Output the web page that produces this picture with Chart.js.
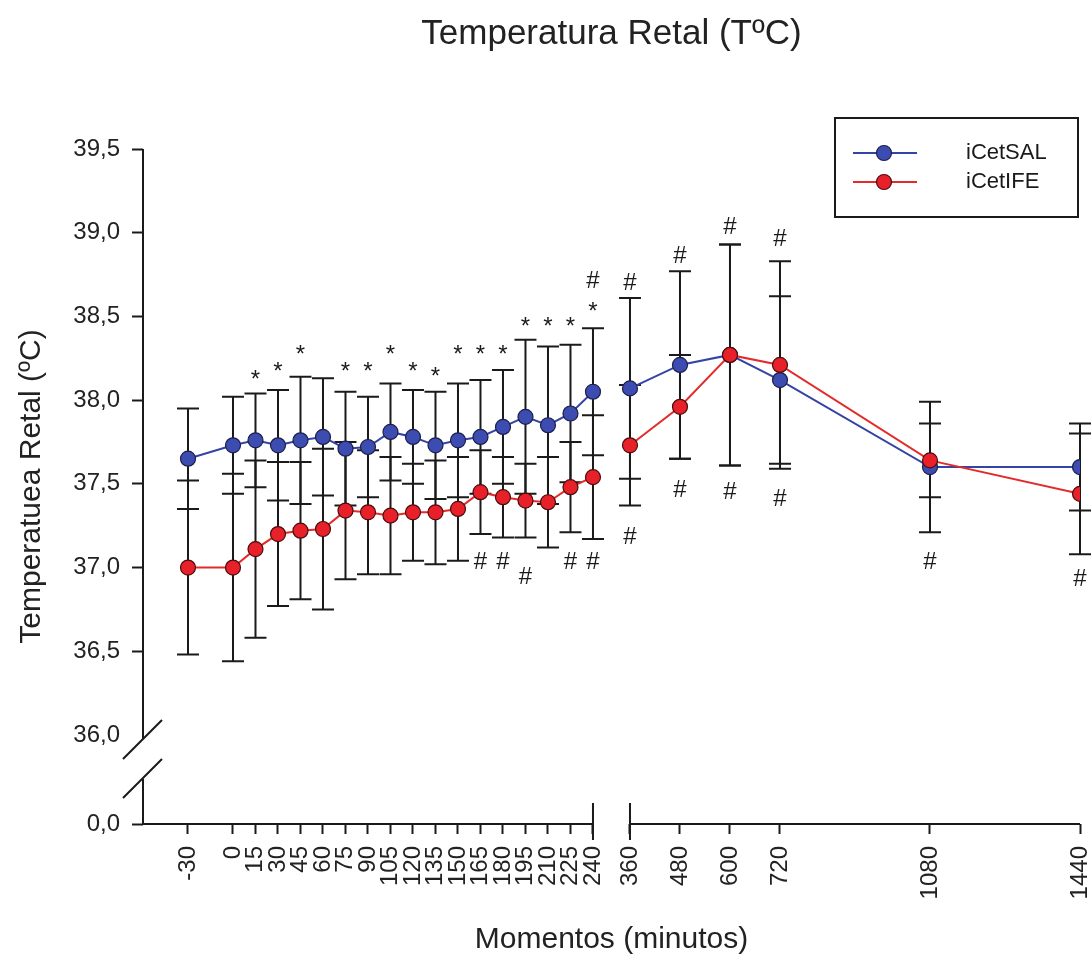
<!DOCTYPE html>
<html lang="pt">
<head>
<meta charset="utf-8">
<title>Temperatura Retal</title>
<script src="https://cdn.jsdelivr.net/npm/chart.js@4.4.1/dist/chart.umd.min.js"></script>
<style>
html,body{margin:0;padding:0;background:#fff;}
canvas{display:block;}
</style>
</head>
<body>
<canvas id="graf" width="1092" height="962"></canvas>
<script>
// momentos de coleta (minutos) e médias ± DP de cada grupo
const momentos=[-30,0,15,30,45,60,75,90,105,120,135,150,165,180,195,210,225,240,360,480,600,720,1080,1440];
const salMedia=[37.65,37.73,37.76,37.73,37.76,37.78,37.71,37.72,37.81,37.78,37.73,37.76,37.78,37.84,37.90,37.85,37.92,38.05,38.07,38.21,38.27,38.12,37.60,37.60];
const salDP=[0.30,0.29,0.28,0.33,0.38,0.35,0.34,0.30,0.29,0.28,0.32,0.34,0.34,0.34,0.46,0.47,0.41,0.38,0.54,0.56,0.66,0.50,0.39,0.26];
const ifeMedia=[37.00,37.00,37.11,37.20,37.22,37.23,37.34,37.33,37.31,37.33,37.33,37.35,37.45,37.42,37.40,37.39,37.48,37.54,37.73,37.96,38.27,38.21,37.64,37.44];
const ifeDP=[0.52,0.56,0.53,0.43,0.41,0.48,0.41,0.37,0.35,0.29,0.31,0.31,0.25,0.24,0.22,0.27,0.27,0.37,0.36,0.31,0.66,0.62,0.22,0.36];

// eixo y quebrado: o "0,0" fica logo abaixo de 36,0
const yValores=[35.468,36,36.5,37,37.5,38,38.5,39,39.5];
const yRotulos=['0,0','36,0','36,5','37,0','37,5','38,0','38,5','39,0','39,5'];

// marcas de significância: * e #
const astMomentos=[15,30,45,75,90,105,120,135,150,165,180,195,210,225,240];
const astNivel=[38.16,38.21,38.31,38.21,38.21,38.31,38.21,38.18,38.31,38.31,38.31,38.48,38.48,38.48,38.57];
const cerMomentos=[165,180,195,225,240,240,360,360,480,480,600,600,720,720,1080,1440];
const cerNivel=[37.03,37.03,36.94,37.03,37.03,38.71,38.70,37.18,38.86,37.46,39.03,37.45,38.96,37.41,37.03,36.93];

const FONTE="'Liberation Sans', Arial, sans-serif";
const TINTA='#1a1a1a';

// até 240 min a escala é normal; depois do corte ela é comprimida
const CORTE=240, RETOMA=360, SALTO=24.67, COMPRESSAO=0.2778, X_INICIO=-60;
function posicao(m){ return m<=CORTE ? m : CORTE+SALTO+(m-RETOMA)*COMPRESSAO; }
const iCorte=momentos.indexOf(CORTE);

function pontos(medias){ return momentos.map((m,i)=>({x:posicao(m),y:medias[i]})); }

const barrasErro={
  id:'barrasErro',
  beforeDatasetsDraw(chart){
    const ctx=chart.ctx, xs=chart.scales.x, ys=chart.scales.y;
    ctx.save();
    ctx.strokeStyle=TINTA; ctx.lineWidth=2;
    chart.data.datasets.forEach(ds=>{
      ds.data.forEach((p,i)=>{
        const px=xs.getPixelForValue(p.x);
        const topo=ys.getPixelForValue(p.y+ds.desvio[i]);
        const base=ys.getPixelForValue(p.y-ds.desvio[i]);
        ctx.beginPath();
        ctx.moveTo(px,topo); ctx.lineTo(px,base);
        ctx.moveTo(px-11,topo); ctx.lineTo(px+11,topo);
        ctx.moveTo(px-11,base); ctx.lineTo(px+11,base);
        ctx.stroke();
      });
    });
    ctx.restore();
  }
};

// linhas dos eixos com as quebras
const eixosQuebrados={
  id:'eixosQuebrados',
  beforeDatasetsDraw(chart){
    const ctx=chart.ctx, xs=chart.scales.x, ys=chart.scales.y, a=chart.chartArea;
    const x0=a.left, yb=a.bottom;
    const y36=ys.getPixelForValue(36);
    ctx.save();
    ctx.strokeStyle=TINTA; ctx.lineWidth=2;
    ctx.beginPath();
    // eixo y
    ctx.moveTo(x0,a.top); ctx.lineTo(x0,y36+4);
    ctx.moveTo(x0,y36+44); ctx.lineTo(x0,yb);
    ctx.moveTo(x0-20,y36+24); ctx.lineTo(x0+19,y36-15);
    ctx.moveTo(x0-20,y36+63); ctx.lineTo(x0+19,y36+24);
    // eixo x
    const xc=xs.getPixelForValue(posicao(CORTE)), xr=xs.getPixelForValue(posicao(RETOMA));
    ctx.moveTo(x0-1,yb); ctx.lineTo(xc,yb);
    ctx.moveTo(xc,yb-21); ctx.lineTo(xc,yb+16);
    ctx.moveTo(xr,yb-21); ctx.lineTo(xr,yb+16);
    ctx.moveTo(xr,yb); ctx.lineTo(a.right,yb);
    ctx.stroke();
    ctx.restore();
  }
};

const marcas={
  id:'marcas',
  afterDatasetsDraw(chart){
    const ctx=chart.ctx, xs=chart.scales.x, ys=chart.scales.y;
    ctx.save();
    ctx.fillStyle=TINTA; ctx.textAlign='center';
    ctx.font='24px '+FONTE;
    ctx.textBaseline='alphabetic';
    astMomentos.forEach((m,i)=>{
      ctx.fillText('*',xs.getPixelForValue(posicao(m)),ys.getPixelForValue(astNivel[i])+14);
    });
    ctx.textBaseline='middle';
    cerMomentos.forEach((m,i)=>{
      ctx.fillText('#',xs.getPixelForValue(posicao(m)),ys.getPixelForValue(cerNivel[i]));
    });
    ctx.restore();
  }
};

const legendaCaixa={
  id:'legendaCaixa',
  afterDraw(chart){
    const ctx=chart.ctx, a=chart.chartArea;
    const L=a.right-245, T=a.top-31, W=243, H=99;
    ctx.save();
    ctx.strokeStyle=TINTA; ctx.lineWidth=2;
    ctx.strokeRect(L,T,W,H);
    ctx.font='22px '+FONTE; ctx.textBaseline='middle'; ctx.textAlign='left';
    chart.data.datasets.forEach((ds,i)=>{
      const yy=T+35+i*29;
      ctx.strokeStyle=ds.borderColor; ctx.lineWidth=2;
      ctx.beginPath(); ctx.moveTo(L+18,yy); ctx.lineTo(L+82,yy); ctx.stroke();
      ctx.beginPath(); ctx.arc(L+49,yy,7.5,0,Math.PI*2);
      ctx.fillStyle=ds.pointBackgroundColor; ctx.fill();
      ctx.strokeStyle=ds.pointBorderColor; ctx.lineWidth=1.2; ctx.stroke();
      ctx.fillStyle=TINTA;
      ctx.fillText(ds.label,L+131,yy);
    });
    ctx.restore();
  }
};

const semCorte={borderColor:c=>c.p0DataIndex===iCorte?'rgba(0,0,0,0)':undefined};

new Chart(document.getElementById('graf'),{
  type:'line',
  data:{
    datasets:[
      {label:'iCetSAL',data:pontos(salMedia),desvio:salDP,order:1,
       borderColor:'#3443a4',borderWidth:2,pointBackgroundColor:'#3d4cb0',pointBorderColor:'#1c1f4a',
       pointBorderWidth:1.2,pointRadius:7.5,segment:semCorte},
      {label:'iCetIFE',data:pontos(ifeMedia),desvio:ifeDP,order:0,
       borderColor:'#e32b2b',borderWidth:2,pointBackgroundColor:'#e8202a',pointBorderColor:'#4a0d0d',
       pointBorderWidth:1.2,pointRadius:7.5,segment:semCorte}
    ]
  },
  options:{
    responsive:false,
    animation:false,
    layout:{autoPadding:false,padding:{left:0,right:12,top:0,bottom:0}},
    plugins:{
      legend:{display:false},
      tooltip:{enabled:false},
      title:{display:true,text:'Temperatura Retal (TºC)',fullSize:false,color:'#222',
        font:{size:35,family:FONTE,weight:'normal'},padding:{top:13,bottom:94}}
    },
    scales:{
      x:{
        type:'linear',min:X_INICIO,max:posicao(1440),
        afterBuildTicks:s=>{s.ticks=momentos.map(m=>({value:posicao(m)}));},
        afterFit:s=>{s.height=138;s.paddingLeft=0;s.paddingRight=0;},
        border:{display:false},
        grid:{drawOnChartArea:false,tickLength:10,tickWidth:2,tickColor:TINTA},
        ticks:{autoSkip:false,minRotation:90,maxRotation:90,padding:12,color:'#222',
          font:{size:24,family:FONTE},callback:(v,i)=>String(momentos[i])},
        title:{display:true,text:'Momentos (minutos)',color:'#222',font:{size:30,family:FONTE},padding:{top:0,bottom:4}}
      },
      y:{
        type:'linear',min:yValores[0],max:yValores[yValores.length-1],
        afterBuildTicks:s=>{s.ticks=yValores.map(v=>({value:v}));},
        afterFit:s=>{s.width=143;s.paddingTop=0;s.paddingBottom=0;},
        border:{display:false},
        grid:{drawOnChartArea:false,tickLength:11,tickWidth:2,
          tickColor:c=>(c.tick&&c.tick.value===36)?'rgba(0,0,0,0)':TINTA},
        ticks:{padding:12,color:'#222',font:{size:24,family:FONTE},callback:(v,i)=>yRotulos[i]},
        title:{display:true,text:'Temperatuea Retal (ºC)',color:'#222',font:{size:30,family:FONTE},padding:{top:14,bottom:0}}
      }
    }
  },
  plugins:[eixosQuebrados,barrasErro,marcas,legendaCaixa]
});
</script>
</body>
</html>
